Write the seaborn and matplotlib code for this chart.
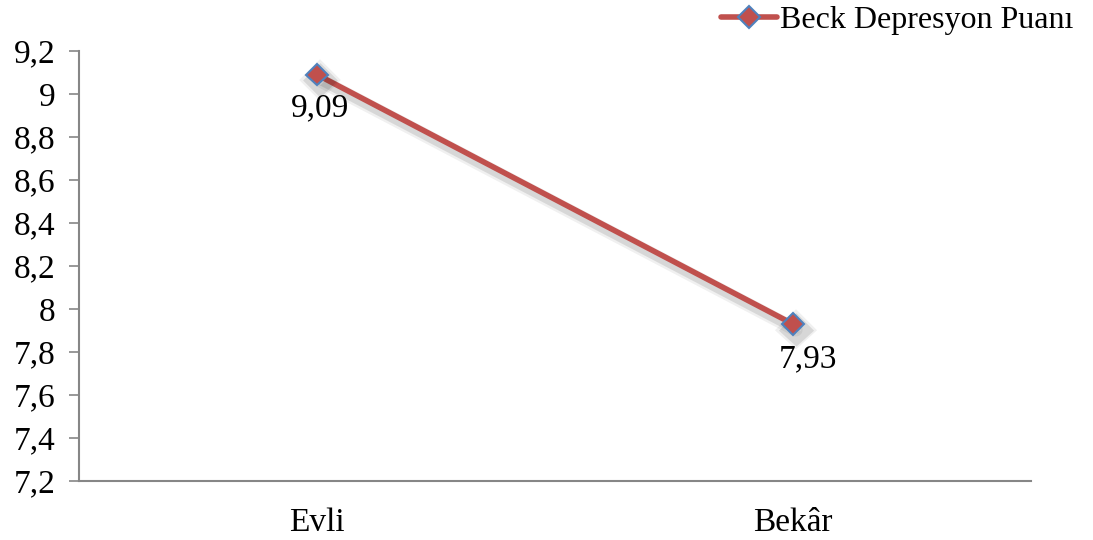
import matplotlib
matplotlib.use("Agg")
import matplotlib.pyplot as plt
import matplotlib.patheffects as pe
from matplotlib.ticker import FuncFormatter, MultipleLocator
import seaborn as sns
import pandas as pd

# Marital status vs. mean Beck depression score
categories = ["Evli", "Bekâr"]
scores = [9.09, 7.93]
series_name = "Beck Depresyon Puanı"

df = pd.DataFrame({"Durum": categories, "Puan": scores})

sns.set_theme(style="white")
plt.rcParams["font.family"] = ["Liberation Serif", "DejaVu Serif"]
plt.rcParams["text.color"] = "black"

LINE_RED = "#C0504D"
EDGE_BLUE = "#4F81BD"
AXIS_GREY = "#868686"
FS = 24
LW = 4.0
MS = 11

fig = plt.figure(figsize=(10.93, 5.40), dpi=100)
ax = fig.add_axes([79 / 1093, 1 - 481 / 540, (1031 - 79) / 1093, (481 - 51) / 540])

shadow = [
    pe.SimpleLineShadow(offset=(2, -4), shadow_color="black", alpha=0.06, linewidth=10),
    pe.SimpleLineShadow(offset=(2, -4), shadow_color="black", alpha=0.10, linewidth=6.5),
    pe.Normal(),
]

sns.lineplot(
    data=df, x="Durum", y="Puan", ax=ax, sort=False,
    color=LINE_RED, linewidth=LW, marker="D", markersize=MS,
    markerfacecolor=LINE_RED, markeredgecolor=EDGE_BLUE, markeredgewidth=1.5,
    path_effects=shadow, label=series_name, legend=False,
)

ax.set_xlim(-0.5, 1.5)
ax.set_ylim(7.2, 9.2)
ax.yaxis.set_major_locator(MultipleLocator(0.2))


def comma_fmt(v, _):
    if abs(v - round(v)) < 1e-9:
        return f"{int(round(v))}"
    return f"{v:.1f}".replace(".", ",")


ax.yaxis.set_major_formatter(FuncFormatter(comma_fmt))

ax.set_xlabel("")
ax.set_ylabel("")
for side in ("top", "right"):
    ax.spines[side].set_visible(False)
for side in ("left", "bottom"):
    ax.spines[side].set_color(AXIS_GREY)
    ax.spines[side].set_linewidth(1.5)

ax.tick_params(axis="y", which="major", left=True, length=7, width=1.2,
               color=AXIS_GREY, labelsize=FS, pad=10, labelcolor="black")
ax.tick_params(axis="x", which="major", bottom=False, labelsize=FS, pad=13,
               labelcolor="black")

# Value labels below each point
label_offsets = [(2, -24), (11, -25)]
for i, (val, off) in enumerate(zip(scores, label_offsets)):
    ax.annotate(f"{val:.2f}".replace(".", ","), xy=(i, val), xytext=off,
                textcoords="offset points", ha="center", va="center",
                fontsize=FS, color="black")

handle = plt.Line2D([], [], color=LINE_RED, linewidth=LW, marker="D",
                    markersize=MS, markerfacecolor=LINE_RED,
                    markeredgecolor=EDGE_BLUE, markeredgewidth=1.5)
leg = fig.legend([handle], [series_name], loc="upper right",
                 bbox_to_anchor=(1.0, 1.025), frameon=False, fontsize=23,
                 handlelength=1.75, handletextpad=0.1, borderaxespad=0.2)
for t in leg.get_texts():
    t.set_color("black")

fig.savefig("out.png", dpi=100, facecolor="white")
